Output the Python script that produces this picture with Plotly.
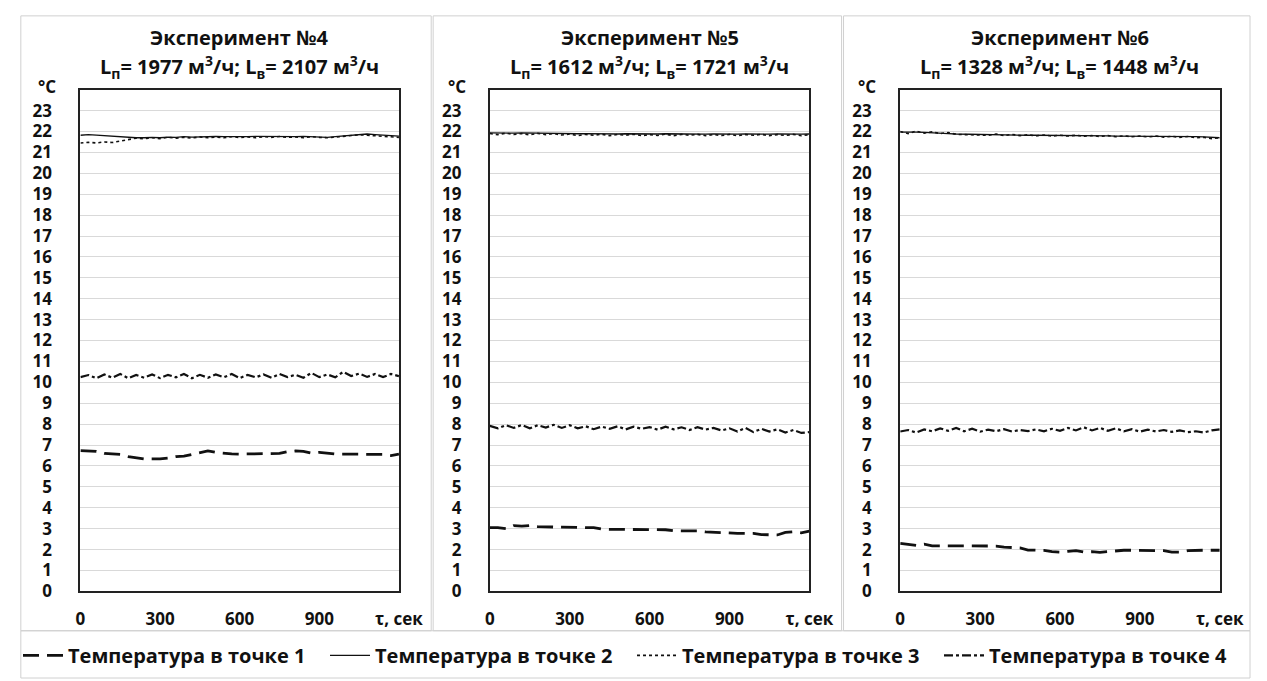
import plotly.graph_objects as go

W, H = 1267, 681

# ---- data ----
time_s = list(range(0, 1201, 30))

experiments = ["Эксперимент №4", "Эксперимент №5", "Эксперимент №6"]
flow_in = [1977, 1612, 1328]
flow_out = [2107, 1721, 1448]

series_names = ["Температура в точке 1", "Температура в точке 2",
                "Температура в точке 3", "Температура в точке 4"]

exp4_p1 = [6.73, 6.73, 6.7, 6.6, 6.57, 6.55, 6.45, 6.38, 6.34, 6.34, 6.34, 6.38, 6.45, 6.47,
           6.55, 6.62, 6.72, 6.65, 6.6, 6.58, 6.57, 6.57, 6.57, 6.57, 6.57, 6.6, 6.68, 6.72,
           6.7, 6.62, 6.65, 6.6, 6.57, 6.57, 6.57, 6.57, 6.57, 6.57, 6.55, 6.5, 6.57]
exp4_p2 = [21.82, 21.85, 21.83, 21.8, 21.78, 21.75, 21.72, 21.7, 21.7, 21.72, 21.7, 21.73,
           21.72, 21.75, 21.73, 21.75, 21.74, 21.76, 21.75, 21.74, 21.76, 21.75, 21.77, 21.76,
           21.75, 21.77, 21.76, 21.75, 21.77, 21.76, 21.74, 21.72, 21.75, 21.78, 21.82, 21.86,
           21.88, 21.85, 21.83, 21.8, 21.78]
exp4_p3 = [21.45, 21.48, 21.45, 21.5, 21.47, 21.55, 21.62, 21.68, 21.65, 21.7, 21.66, 21.72,
           21.68, 21.72, 21.69, 21.74, 21.7, 21.73, 21.7, 21.75, 21.71, 21.74, 21.7, 21.75,
           21.72, 21.76, 21.72, 21.74, 21.7, 21.75, 21.72, 21.7, 21.73, 21.76, 21.8, 21.84,
           21.82, 21.8, 21.76, 21.74, 21.72]
exp4_p4 = [10.25, 10.35, 10.2, 10.38, 10.22, 10.4, 10.2, 10.35, 10.22, 10.38, 10.2, 10.36,
           10.24, 10.4, 10.2, 10.36, 10.22, 10.38, 10.24, 10.4, 10.2, 10.36, 10.24, 10.38,
           10.22, 10.4, 10.25, 10.36, 10.22, 10.45, 10.25, 10.38, 10.24, 10.5, 10.3, 10.42,
           10.26, 10.4, 10.25, 10.4, 10.3]

exp5_p1 = [3.05, 3.05, 3.0, 3.15, 3.12, 3.15, 3.1, 3.08, 3.08, 3.08, 3.06, 3.05, 3.05, 3.05,
           2.98, 2.97, 2.97, 2.97, 2.97, 2.97, 2.97, 2.96, 2.95, 2.9, 2.9, 2.9, 2.9, 2.85,
           2.83, 2.82, 2.78, 2.78, 2.78, 2.78, 2.72, 2.7, 2.7, 2.82, 2.85, 2.8, 2.88]
exp5_p2 = [21.93, 21.92, 21.93, 21.92, 21.93, 21.92, 21.92, 21.91, 21.9, 21.9, 21.9, 21.89,
           21.9, 21.89, 21.9, 21.89, 21.88, 21.89, 21.88, 21.89, 21.88, 21.88, 21.89, 21.88,
           21.88, 21.87, 21.88, 21.87, 21.88, 21.87, 21.88, 21.87, 21.88, 21.87, 21.88, 21.87,
           21.88, 21.87, 21.88, 21.87, 21.88]
exp5_p3 = [21.9, 21.85, 21.92, 21.86, 21.9, 21.84, 21.91, 21.85, 21.9, 21.83, 21.88, 21.8,
           21.86, 21.82, 21.87, 21.8, 21.86, 21.82, 21.87, 21.8, 21.85, 21.81, 21.87, 21.8,
           21.86, 21.82, 21.86, 21.8, 21.85, 21.81, 21.86, 21.8, 21.85, 21.82, 21.86, 21.8,
           21.85, 21.81, 21.86, 21.8, 21.85]
exp5_p4 = [7.92, 7.8, 7.95, 7.82, 7.96, 7.8, 7.95, 7.84, 7.97, 7.82, 7.95, 7.8, 7.9, 7.76,
           7.88, 7.78, 7.9, 7.75, 7.88, 7.78, 7.86, 7.74, 7.88, 7.75, 7.85, 7.72, 7.86, 7.74,
           7.82, 7.7, 7.8, 7.65, 7.82, 7.62, 7.78, 7.65, 7.75, 7.6, 7.72, 7.58, 7.62]

exp6_p1 = [2.3, 2.26, 2.2, 2.26, 2.18, 2.18, 2.18, 2.18, 2.18, 2.18, 2.17, 2.17, 2.17, 2.12,
           2.1, 2.08, 1.98, 1.97, 1.96, 1.9, 1.88, 1.92, 1.95, 1.88, 1.9, 1.87, 1.9, 1.96,
           1.97, 1.97, 1.97, 1.97, 1.96, 1.95, 1.88, 1.88, 1.95, 1.97, 1.97, 1.97, 1.97]
exp6_p2 = [21.97, 21.98, 21.97, 21.96, 21.95, 21.93, 21.9, 21.88, 21.87, 21.86, 21.85, 21.85,
           21.84, 21.84, 21.83, 21.83, 21.82, 21.82, 21.82, 21.81, 21.81, 21.8, 21.8, 21.8,
           21.79, 21.79, 21.79, 21.78, 21.78, 21.78, 21.77, 21.77, 21.77, 21.76, 21.76, 21.76,
           21.75, 21.75, 21.74, 21.73, 21.7]
exp6_p3 = [22.0, 21.9, 22.02, 21.92, 21.98, 21.9, 21.95, 21.86, 21.85, 21.84, 21.86, 21.82,
           21.88, 21.8, 21.86, 21.8, 21.84, 21.79, 21.83, 21.78, 21.82, 21.78, 21.82, 21.77,
           21.8, 21.76, 21.8, 21.75, 21.79, 21.75, 21.78, 21.74, 21.78, 21.73, 21.77, 21.72,
           21.76, 21.7, 21.72, 21.66, 21.7]
exp6_p4 = [7.65, 7.72, 7.6, 7.75, 7.66, 7.8, 7.68, 7.82, 7.66, 7.78, 7.64, 7.74, 7.66, 7.76,
           7.65, 7.72, 7.67, 7.75, 7.66, 7.78, 7.68, 7.82, 7.7, 7.85, 7.7, 7.82, 7.68, 7.8,
           7.66, 7.76, 7.64, 7.74, 7.65, 7.72, 7.63, 7.7, 7.62, 7.66, 7.6, 7.7, 7.75]

panel_data = [
    [exp4_p1, exp4_p2, exp4_p3, exp4_p4],
    [exp5_p1, exp5_p2, exp5_p3, exp5_p4],
    [exp6_p1, exp6_p2, exp6_p3, exp6_p4],
]

y_ticks = list(range(0, 24))
x_tickvals = [0, 300, 600, 900, 1200]
x_ticktext = ["0", "300", "600", "900", "τ, сек"]

# ---- styles ----
FONT = "Open Sans"
INK = "#111111"
line_styles = [
    dict(color=INK, width=2.8, dash="16px,8px"),
    dict(color=INK, width=1.3, dash="solid"),
    dict(color=INK, width=1.6, dash="dot"),
    dict(color=INK, width=2.2, dash="dashdot"),
]


def px(X):
    return X / W


def py(Y):
    return 1 - Y / H


x_px = [(69, 395), (488, 815), (908, 1235)]
y_top, y_bot = 83, 593
panel_px = [(8, 428), (430, 848), (850, 1266)]

fig = go.Figure()

for p in range(3):
    ax = "" if p == 0 else str(p + 1)
    for s in range(4):
        fig.add_trace(go.Scatter(
            x=time_s, y=panel_data[p][s], mode="lines",
            name=series_names[s], line=line_styles[s],
            showlegend=(p == 0), legendrank=s + 1,
            xaxis="x" + ax, yaxis="y" + ax,
        ))

    common_axis = dict(showline=True, linecolor="#222222", linewidth=2, mirror=True,
                       zeroline=False, ticks="",
                       tickfont=dict(family=FONT, size=17, color=INK, weight="bold"))
    fig.layout["xaxis" + ax] = dict(
        domain=[px(x_px[p][0]), px(x_px[p][1])], range=[0, 1200],
        anchor="y" + ax, tickvals=x_tickvals, ticktext=x_ticktext,
        showgrid=False, ticklabelstandoff=11, **common_axis)
    fig.layout["yaxis" + ax] = dict(
        domain=[py(y_bot), py(y_top)], range=[0, 24],
        anchor="x" + ax, tickvals=y_ticks,
        showgrid=True, gridcolor="#d9d9d9", gridwidth=1,
        ticklabelstandoff=23, **common_axis)

    cx = px((x_px[p][0] + x_px[p][1]) / 2)
    fig.add_annotation(x=cx, y=py(30), xref="paper", yref="paper",
                       xanchor="center", yanchor="middle",
                       text=experiments[p], showarrow=False,
                       font=dict(family=FONT, size=20, color=INK, weight="bold"))
    fig.add_annotation(
        x=cx, y=py(60), xref="paper", yref="paper", showarrow=False,
        xanchor="center", yanchor="middle",
        text=f"L<sub>п</sub>= {flow_in[p]} м<sup>3</sup>/ч; L<sub>в</sub>= {flow_out[p]} м<sup>3</sup>/ч",
        font=dict(family=FONT, size=20, color=INK, weight="bold"))
    fig.add_annotation(x=px(x_px[p][0] - 34), y=py(80), xref="paper", yref="paper",
                       xanchor="center", yanchor="middle",
                       text="°C", showarrow=False,
                       font=dict(family=FONT, size=17, color=INK, weight="bold"))
    fig.add_shape(type="rect", xref="paper", yref="paper",
                  x0=px(panel_px[p][0]), x1=px(panel_px[p][1]),
                  y0=py(633), y1=py(8),
                  line=dict(color="#d0d0d0", width=1), layer="below")

fig.add_shape(type="rect", xref="paper", yref="paper",
              x0=px(8), x1=px(1266), y0=py(681), y1=py(633),
              line=dict(color="#d0d0d0", width=1), layer="below")

fig.update_layout(
    width=W, height=H,
    margin=dict(l=0, r=0, t=0, b=0),
    paper_bgcolor="white", plot_bgcolor="white",
    font=dict(family=FONT, color=INK),
    legend=dict(orientation="h", x=0.5, xanchor="center", y=py(658), yanchor="middle",
                font=dict(family=FONT, size=20, color=INK, weight="bold"),
                itemwidth=40, entrywidth=252, traceorder="normal",
                bgcolor="rgba(0,0,0,0)"),
)

fig.write_html("out.html")
